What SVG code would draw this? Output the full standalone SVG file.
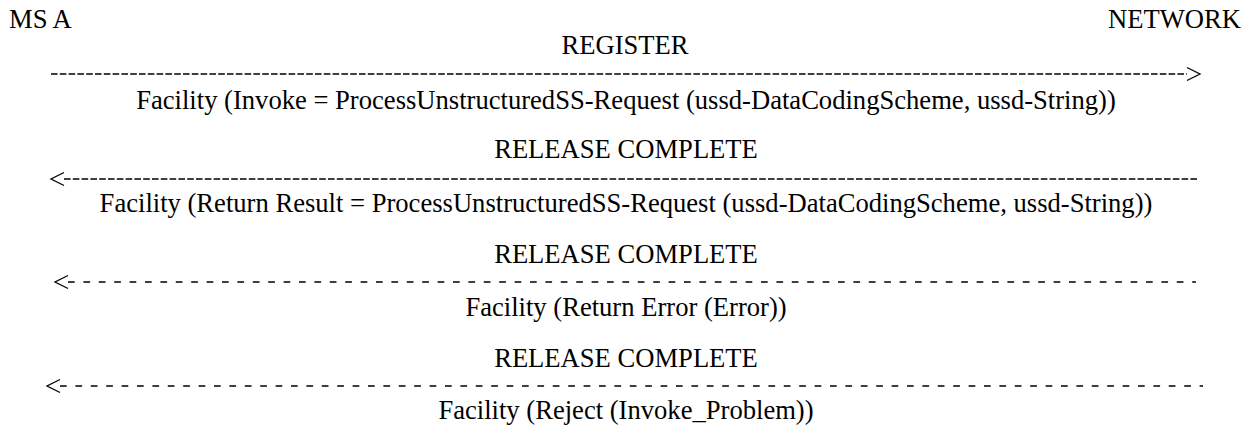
<svg xmlns="http://www.w3.org/2000/svg" width="1252" height="428" viewBox="0 0 1252 428">
<style>
  text { font-family: "Liberation Serif", "Times New Roman", serif; font-size: 26.6px; fill: #000; }
  .c { text-anchor: middle; }
  .solid { stroke: #000; stroke-width: 1.7; stroke-dasharray: 6.6 2.2; fill: none; }
  .spaced { stroke: #000; stroke-width: 1.7; stroke-dasharray: 6.7 8.7; fill: none; }
  .head { stroke: #000; stroke-width: 1.3; fill: none; }
</style>
<rect width="1252" height="428" fill="#fff"/>
<g id="ms-a"><text x="9" y="28">MS A</text></g>
<g id="network"><text x="1241" y="28" style="text-anchor:end">NETWORK</text></g>
<g id="msg1">
  <text class="c" x="625" y="54">REGISTER</text>
  <text class="c" x="626" y="109">Facility (Invoke = ProcessUnstructuredSS-Request (ussd-DataCodingScheme, ussd-String))</text>
</g>
<g id="msg2">
  <text class="c" x="626" y="158">RELEASE COMPLETE</text>
  <text class="c" x="626" y="212">Facility (Return Result = ProcessUnstructuredSS-Request (ussd-DataCodingScheme, ussd-String))</text>
</g>
<g id="msg3">
  <text class="c" x="626" y="263">RELEASE COMPLETE</text>
  <text class="c" x="626" y="316">Facility (Return Error (Error))</text>
</g>
<g id="msg4">
  <text class="c" x="626" y="367">RELEASE COMPLETE</text>
  <text class="c" x="626" y="419">Facility (Reject (Invoke_Problem))</text>
</g>
<g id="connectors">
  <line class="solid" x1="51" y1="74" x2="1187" y2="74"/>
  <path class="head" d="M1187,67.5 L1200,74 L1187,80.5"/>
  <line class="solid" x1="64" y1="179" x2="1199" y2="179"/>
  <path class="head" d="M64,172.5 L51,179 L64,185.5"/>
  <line class="spaced" x1="68" y1="282" x2="1196" y2="282"/>
  <path class="head" d="M68,275.5 L55,282 L68,288.5"/>
  <line class="spaced" x1="60" y1="386" x2="1203" y2="386"/>
  <path class="head" d="M60,379.5 L47,386 L60,392.5"/>
</g>
</svg>
